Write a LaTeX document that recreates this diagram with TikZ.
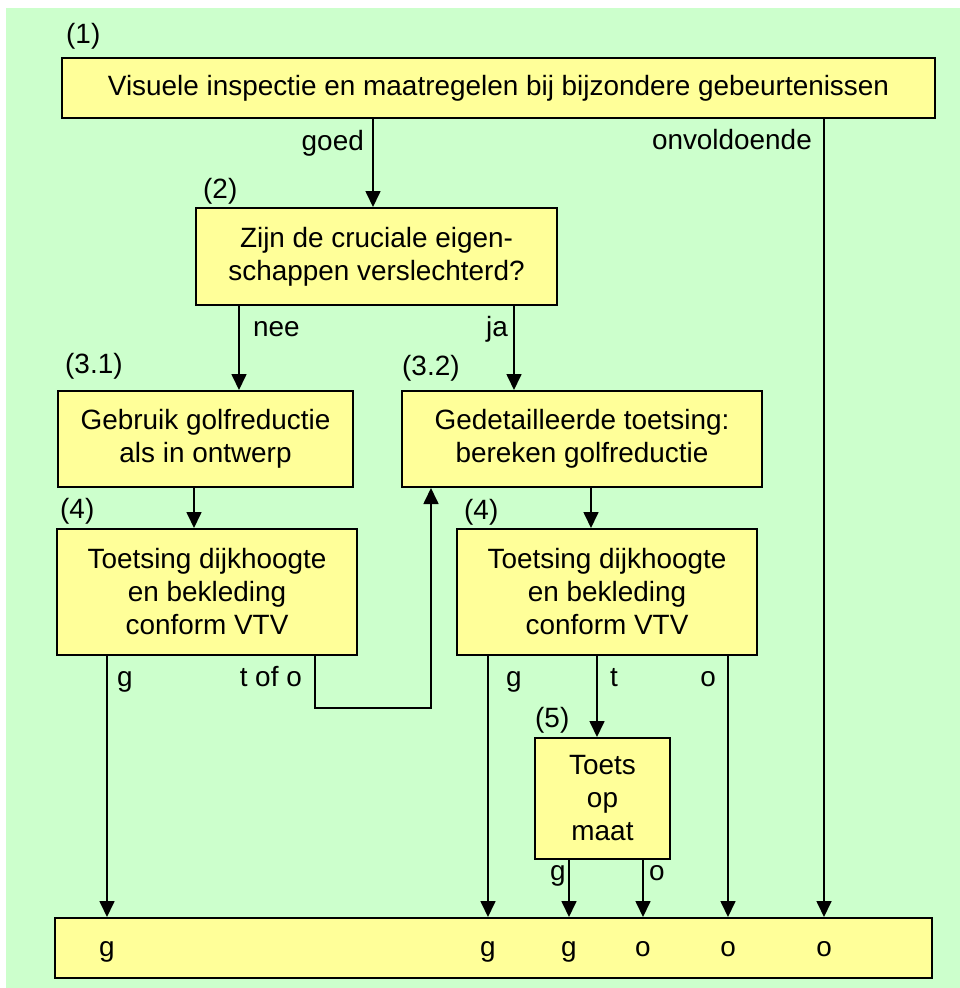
\documentclass[tikz,border=0pt]{standalone}
\usepackage{fontspec}
\setmainfont{Liberation Sans}
\usetikzlibrary{arrows.meta}
\definecolor{bggreen}{RGB}{204,255,204}
\definecolor{boxyellow}{RGB}{255,255,153}
\begin{document}
\begin{tikzpicture}[x=1pt,y=-1pt,
  every node/.style={font=\fontsize{27.9}{33}\selectfont},
  box/.style={draw, fill=boxyellow, line width=2pt, inner sep=0pt, align=center},
  lbl/.style={inner sep=0pt},
  arr/.style={line width=1.7pt, -{Triangle[length=16pt,width=15pt]}}]
  % page and background
  \useasboundingbox (0,0) rectangle (960,988);
  \fill[bggreen] (6,8) rectangle (960,988);

  % boxes
  \node[box, minimum width=873pt, minimum height=60pt] (b1) at (498.5,88) {Visuele inspectie en maatregelen bij bijzondere gebeurtenissen};
  \node[box, minimum width=361pt, minimum height=97pt] (b2) at (376.5,256.5) {Zijn de cruciale eigen-\\schappen verslechterd?};
  \node[box, minimum width=295pt, minimum height=96pt] (b31) at (205.5,439) {Gebruik golfreductie\\als in ontwerp};
  \node[box, minimum width=360pt, minimum height=96pt] (b32) at (582,439) {Gedetailleerde toetsing:\\bereken golfreductie};
  \node[box, minimum width=300pt, minimum height=126pt] (b4l) at (207,592) {Toetsing dijkhoogte\\en bekleding\\conform VTV};
  \node[box, minimum width=300pt, minimum height=126pt] (b4r) at (607,592) {Toetsing dijkhoogte\\en bekleding\\conform VTV};
  \node[box, minimum width=135pt, minimum height=121pt] (b5) at (602.5,798.5) {Toets\\op\\maat};
  \node[box, minimum width=877pt, minimum height=60pt] (bot) at (493.5,948) {};

  % step numbers
  \node[lbl, anchor=west] (n1) at (66,36) {(1)};
  \node[lbl, anchor=west] (n2) at (203,191) {(2)};
  \node[lbl, anchor=west] (n31) at (65,366) {(3.1)};
  \node[lbl, anchor=west] (n32) at (402,368) {(3.2)};
  \node[lbl, anchor=west] (n4l) at (60,511) {(4)};
  \node[lbl, anchor=west] (n4r) at (464,512) {(4)};
  \node[lbl, anchor=west] (n5) at (535,720) {(5)};

  % connectors
  \draw[arr] (373,0 |- b1.south) -- (373,0 |- b2.north);
  \draw[arr] (824,0 |- b1.south) -- (824,0 |- bot.north);
  \draw[arr] (239,0 |- b2.south) -- (239,0 |- b31.north);
  \draw[arr] (514,0 |- b2.south) -- (514,0 |- b32.north);
  \draw[arr] (194,0 |- b31.south) -- (194,0 |- b4l.north);
  \draw[arr] (591,0 |- b32.south) -- (591,0 |- b4r.north);
  \draw[arr] (107,0 |- b4l.south) -- (107,0 |- bot.north);
  \draw[arr] (315,0 |- b4l.south) |- (431,708) -- (431,0 |- b32.south);
  \draw[arr] (488,0 |- b4r.south) -- (488,0 |- bot.north);
  \draw[arr] (597,0 |- b4r.south) -- (597,0 |- b5.north);
  \draw[arr] (728,0 |- b4r.south) -- (728,0 |- bot.north);
  \draw[arr] (569,0 |- b5.south) -- (569,0 |- bot.north);
  \draw[arr] (643,0 |- b5.south) -- (643,0 |- bot.north);

  % connector labels
  \node[lbl, anchor=base east] (lgoed) at (364,150) {goed};
  \node[lbl, anchor=base east] (lonv) at (812,149) {onvoldoende};
  \node[lbl, anchor=base west] (lnee) at (253,336) {nee};
  \node[lbl, anchor=base east] (lja) at (508,336) {ja};
  \node[lbl, anchor=base west] (lg1) at (117,686) {g};
  \node[lbl, anchor=base east] (ltoo) at (302,686) {t of o};
  \node[lbl, anchor=base] (lg2) at (514,686) {g};
  \node[lbl, anchor=base] (lt) at (614,686) {t};
  \node[lbl, anchor=base] (lo) at (708,686) {o};
  \node[lbl, anchor=base] (lg3) at (558,880) {g};
  \node[lbl, anchor=base] (lo2) at (657,880) {o};

  % outcomes in the bottom bar
  \node[lbl, anchor=base] (r1) at (107,956) {g};
  \node[lbl, anchor=base] (r2) at (488,956) {g};
  \node[lbl, anchor=base] (r3) at (569,956) {g};
  \node[lbl, anchor=base] (r4) at (643,956) {o};
  \node[lbl, anchor=base] (r5) at (728,956) {o};
  \node[lbl, anchor=base] (r6) at (824,956) {o};
\end{tikzpicture}
\end{document}
